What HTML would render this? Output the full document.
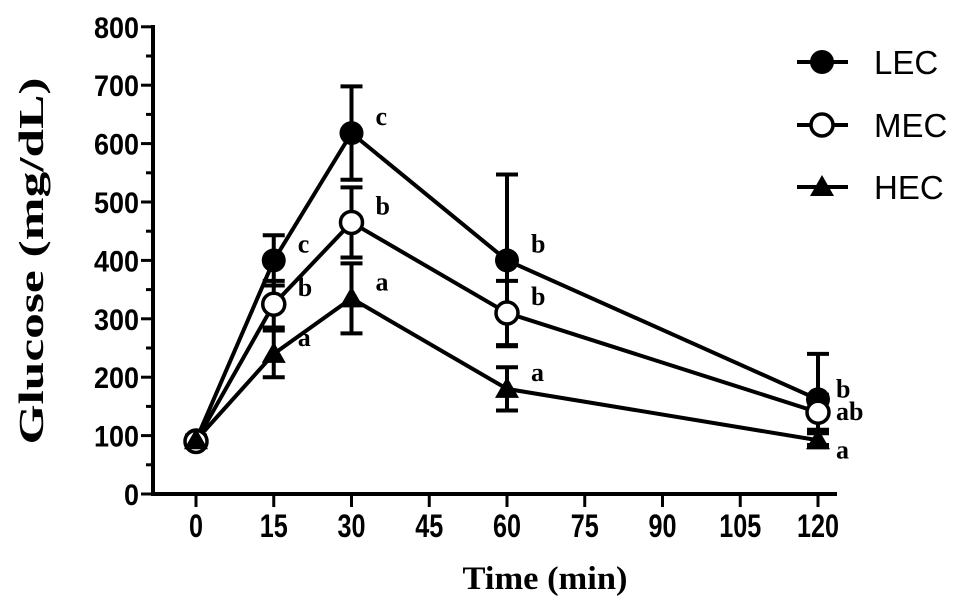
<!DOCTYPE html>
<html><head><meta charset="utf-8"><style>
body{margin:0;background:#fff}
svg{display:block}
</style></head><body>
<svg id="chart" width="969" height="615"></svg>
<script>
const times=[0,15,30,60,120];
const lecVals=[92,400,618,400,162];
const lecErr=[8,43,80,147,78];
const mecVals=[90,325,465,310,140];
const mecErr=[8,40,60,55,30];
const hecVals=[92,240,335,180,92];
const hecErr=[8,40,60,37,12];
const lecLetters=["","c","c","b","b"];
const mecLetters=["","b","b","b","ab"];
const hecLetters=["","a","a","a","a"];
const yTicks=[0,100,200,300,400,500,600,700,800];
const xTicks=[0,15,30,45,60,75,90,105,120];
const NS="http://www.w3.org/2000/svg";
const svg=document.getElementById('chart');
const X=v=>196+v*(622/120);
const Y=v=>494-v*0.584;
function mk(t,a,p){const e=document.createElementNS(NS,t);for(const k in a)e.setAttribute(k,a[k]);(p||svg).appendChild(e);return e;}
let ya=mk('line',{x1:153,y1:25,x2:153,y2:496,stroke:'#000','stroke-width':4});


let xa=mk('line',{x1:151,y1:494,x2:837,y2:494,stroke:'#000','stroke-width':4});


for(let v=0;v<=800;v+=50){const major=v%100===0;mk('line',{x1:major?141:146,y1:Y(v),x2:153,y2:Y(v),stroke:'#000','stroke-width':3});}
yTicks.forEach(v=>{const s=String(v);const t=mk('text',{x:139,y:Y(v)+11,'text-anchor':'end','font-family':'Liberation Sans, sans-serif','font-weight':'bold','font-size':30,textLength:15*s.length,lengthAdjust:'spacingAndGlyphs'});t.textContent=s;

});
xTicks.forEach(v=>{const s=String(v);mk('line',{x1:X(v),y1:494,x2:X(v),y2:507,stroke:'#000','stroke-width':3});
const t=mk('text',{x:X(v),y:537,'text-anchor':'middle','font-family':'Liberation Sans, sans-serif','font-weight':'bold','font-size':32,textLength:14*s.length,lengthAdjust:'spacingAndGlyphs'});t.textContent=s;

});
let xt=mk('text',{x:545,y:589,'text-anchor':'middle','font-family':'Liberation Serif, serif','font-weight':'bold','font-size':33,textLength:165,lengthAdjust:'spacingAndGlyphs'});xt.textContent='Time (min)';


let yt=mk('text',{x:0,y:0,transform:'translate(43,261) rotate(-90)','text-anchor':'middle','font-family':'Liberation Serif, serif','font-weight':'bold','font-size':35,textLength:367,lengthAdjust:'spacingAndGlyphs'});yt.textContent='Glucose (mg/dL)';


function marker(type,cx,cy,g){
 if(type==='fill')return mk('circle',{cx,cy,r:12,fill:'#000'},g);
 if(type==='open')return mk('circle',{cx,cy,r:11,fill:'#fff',stroke:'#000','stroke-width':3.5},g);
 return mk('polygon',{points:`${cx},${cy-12} ${cx-12},${cy+9} ${cx+12},${cy+9}`,fill:'#000'},g);
}
const series=[
 {name:'LEC',vals:lecVals,err:lecErr,letters:lecLetters,type:'fill',ly:62},
 {name:'MEC',vals:mecVals,err:mecErr,letters:mecLetters,type:'open',ly:125},
 {name:'HEC',vals:hecVals,err:hecErr,letters:hecLetters,type:'tri',ly:187}];
series.forEach(s=>{
 const g=mk('g',{});
 
 
 times.forEach((t,i)=>{const x=X(t);mk('line',{x1:x,y1:Y(s.vals[i]-s.err[i]),x2:x,y2:Y(s.vals[i]+s.err[i]),stroke:'#000','stroke-width':4},g);
  [s.vals[i]-s.err[i],s.vals[i]+s.err[i]].forEach(v=>mk('line',{x1:x-11,y1:Y(v),x2:x+11,y2:Y(v),stroke:'#000','stroke-width':4},g));});
 mk('polyline',{points:times.map((t,i)=>X(t)+','+Y(s.vals[i])).join(' '),fill:'none',stroke:'#000','stroke-width':4},g);
});
series.forEach(s=>{
 times.forEach((t,i)=>{const m=marker(s.type,X(t),Y(s.vals[i]));
  
  
  if(s.letters[i]){const tx=mk('text',{x:X(t)+(t===120?18:24),y:Y(s.vals[i])+(t===120?(s.type==='fill'?-2:s.type==='open'?8:18):-8),'font-family':'Liberation Serif, serif','font-weight':'bold','font-size':26});tx.textContent=s.letters[i];
   
   }
 });
 const lg=mk('g',{});
 
 
 mk('line',{x1:797,y1:s.ly,x2:848,y2:s.ly,stroke:'#000','stroke-width':4},lg);
 marker(s.type,822,s.ly,lg);
 const lt=mk('text',{x:874,y:s.ly+12,'font-family':'Liberation Sans, sans-serif','font-size':33},lg);lt.textContent=s.name;
});
</script>
</body></html>
